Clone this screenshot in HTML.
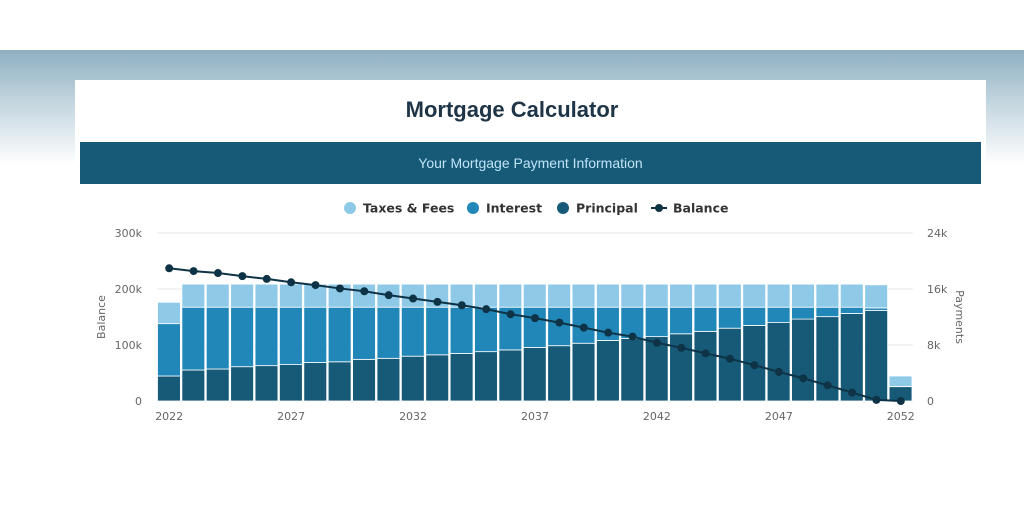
<!DOCTYPE html>
<html><head><meta charset="utf-8"><style>
html,body{margin:0;padding:0;width:1024px;height:519px;overflow:hidden;background:#fff;font-family:"Liberation Sans",sans-serif}
#bg{position:absolute;left:0;top:50px;width:1024px;height:115px;background:linear-gradient(#8eafc1,#c3d5df 45%,#fff)}
#card{position:absolute;left:75px;top:80px;width:911px;height:439px;background:#fff}
#title{position:absolute;left:0;width:1024px;top:97px;text-align:center;font-weight:bold;font-size:22px;color:#1e3447}
#banner{position:absolute;left:80px;top:142px;width:901px;height:42px;background:#175a78;color:#bfe4f7;font-size:14px;text-align:center;line-height:42px}
svg{position:absolute;left:0;top:0}
text{font-family:"DejaVu Sans","Liberation Sans",sans-serif}
</style></head><body>
<div id="bg"></div>
<div id="card"></div>
<div id="title">Mortgage Calculator</div>
<div id="banner">Your Mortgage Payment Information</div>
<svg id="chart" width="1024" height="519"></svg>
<script>
const years=[];for(let y=2022;y<=2052;y++)years.push(y);
const principal=[3.57,4.43,4.57,4.9,5.05,5.2,5.5,5.6,5.95,6.1,6.4,6.6,6.8,7.05,7.3,7.65,7.9,8.25,8.65,8.95,9.2,9.6,9.95,10.4,10.8,11.2,11.7,12.05,12.5,12.95,2.05];
const interest=[7.48,8.97,8.83,8.5,8.35,8.2,7.9,7.8,7.45,7.3,7.0,6.8,6.6,6.35,6.1,5.75,5.5,5.15,4.75,4.45,4.2,3.8,3.45,3.0,2.6,2.2,1.7,1.35,0.9,0.35,0.02];
const taxes=[3.05,3.3,3.3,3.3,3.3,3.3,3.3,3.3,3.3,3.3,3.3,3.3,3.3,3.3,3.3,3.3,3.3,3.3,3.3,3.3,3.3,3.3,3.3,3.3,3.3,3.3,3.3,3.3,3.3,3.3,1.5];
const balance=[237,232,228.5,223,218,212,207,201,196,189,183,177,171,164,155,148,140,131,122,115,104,95,85,75.5,64,52,40.5,28,15,2,0];
const leftTicks=["0","100k","200k","300k"];
const rightTicks=["0","8k","16k","24k"];
const xTickYears=[2022,2027,2032,2037,2042,2047,2052];
const svg=document.getElementById('chart');const NS='http://www.w3.org/2000/svg';
function el(t,a,p){const e=document.createElementNS(NS,t);for(const k in a)e.setAttribute(k,a[k]);(p||svg).appendChild(e);return e;}
const x0=157,x1=913,y0=401,y1=233,n=years.length,bw=(x1-x0)/n;
const xc=i=>x0+bw*(i+0.5);
const yL=v=>y0-(v/300)*(y0-y1);
const yR=v=>y0-(v/24)*(y0-y1);
for(let i=0;i<4;i++){const y=y0-i*(y0-y1)/3;
 const g=el('line',{x1:x0,x2:x1,y1:y,y2:y,stroke:i==0?'#cfe3ee':'#e6e6e6','stroke-width':1});
 
 const t=el('text',{x:142,y:y+4,'text-anchor':'end','font-size':11,fill:'#666'});t.textContent=leftTicks[i];
 
 const r=el('text',{x:927,y:y+4,'font-size':11,fill:'#666'});r.textContent=rightTicks[i];
 }
xTickYears.forEach(yr=>{const i=years.indexOf(yr);const t=el('text',{x:xc(i),y:420,'text-anchor':'middle','font-size':11,fill:'#666'});t.textContent=yr;
 });
let t=el('text',{x:0,y:0,transform:'translate(105,317) rotate(-90)','text-anchor':'middle','font-size':11,fill:'#666'});t.textContent='Balance';

t=el('text',{x:0,y:0,transform:'translate(956,317) rotate(90)','text-anchor':'middle','font-size':11,fill:'#666'});t.textContent='Payments';

const cols=['#175a78','#2087b8','#8ecae8'];
years.forEach((yr,i)=>{let base=0;[principal[i],interest[i],taxes[i]].forEach((v,k)=>{
 const r=el('rect',{x:xc(i)-bw/2+0.5,width:bw-1.5,y:yR(base+v),height:yR(base)-yR(base+v),fill:cols[k],stroke:'#fff','stroke-width':0.8});
 base+=v;});});
const line=el('polyline',{points:balance.map((v,i)=>xc(i)+','+yL(v)).join(' '),fill:'none',stroke:'#0f3346','stroke-width':2});

balance.forEach((v,i)=>{const c=el('circle',{cx:xc(i),cy:yL(v),r:4,fill:'#0f3346'});
 });
const leg=[['Taxes & Fees',350,'#8ecae8'],['Interest',473,'#2087b8'],['Principal',563,'#175a78']];
leg.forEach(l=>{const g=el('g',{});
 el('circle',{cx:l[1],cy:208,r:6,fill:l[2]},g);const tx=el('text',{x:l[1]+13,y:212.5,'font-size':12.5,'font-weight':'bold',fill:'#333'},g);tx.textContent=l[0];});
const g=el('g',{});
el('line',{x1:651,x2:667,y1:208,y2:208,stroke:'#0f3346','stroke-width':2},g);el('circle',{cx:659,cy:208,r:4,fill:'#0f3346'},g);
const tx=el('text',{x:673,y:212.5,'font-size':12.5,'font-weight':'bold',fill:'#333'},g);tx.textContent='Balance';
</script>
</body></html>
